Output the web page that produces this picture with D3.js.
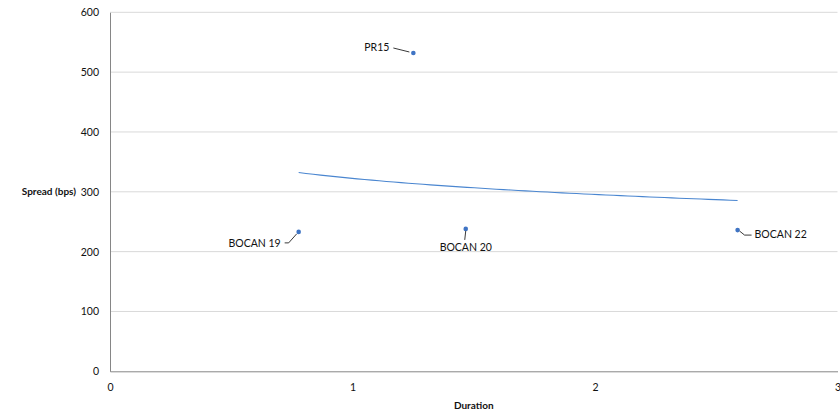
<!DOCTYPE html>
<html><head><meta charset="utf-8">
<script src="https://cdn.jsdelivr.net/npm/d3@7/dist/d3.min.js"></script>
<style>
body{margin:0;background:#fff;}
text{font-family:Lato,"Open Sans",sans-serif;fill:#111;}
</style></head>
<body><svg id="c" width="840" height="416"></svg>
<script>
const names = ["BOCAN 19","PR15","BOCAN 20","BOCAN 22"];
const durations = [0.778, 1.251, 1.467, 2.588];
const spreads = [233, 532, 238, 236];
const yTicks = [0,100,200,300,400,500,600];
const xTicks = [0,1,2,3];

const svg = d3.select("#c");
const x = d3.scaleLinear().domain([0,3]).range([110,837.5]);
const y = d3.scaleLinear().domain([0,600]).range([371.3,12.3]);

// gridlines
svg.append("g").selectAll("line").data(yTicks.filter(d=>d>0)).join("line")
  .attr("x1",x(0)).attr("x2",x(3)).attr("y1",d=>y(d)).attr("y2",d=>y(d))
  .attr("stroke","#d9d9d9").attr("stroke-width",1);

// axes
const yAxis = d3.axisLeft(y).tickValues(yTicks).tickSize(0).tickPadding(11);
const gy = svg.append("g").attr("transform",`translate(${x(0)},0)`).call(yAxis);
gy.select(".domain").attr("stroke","#868686");
gy.selectAll("text").attr("font-size","10.5px").attr("font-family","Lato,sans-serif").attr("fill","#111");

const xAxis = d3.axisBottom(x).tickValues(xTicks).tickSize(0).tickPadding(12).tickFormat(d3.format("d"));
const gx = svg.append("g").attr("transform",`translate(0,${y(0)})`).call(xAxis);
gx.select(".domain").attr("stroke","#868686");
gx.selectAll("text").attr("font-size","10.5px").attr("font-family","Lato,sans-serif").attr("fill","#111");

// axis titles
svg.append("text").attr("x",76).attr("y",y(300)+3.5).attr("text-anchor","end")
  .attr("font-size","10px").attr("font-weight","bold").text("Spread (bps)");
svg.append("text").attr("x",(x(0)+x(3))/2).attr("y",409).attr("text-anchor","middle")
  .attr("font-size","10px").attr("font-weight","bold").text("Duration");

// logarithmic trendline (least squares on ln x), as in the source chart
const lx = durations.map(Math.log);
const mx = d3.mean(lx), my = d3.mean(spreads);
const b = d3.sum(lx.map((v,i)=>(v-mx)*(spreads[i]-my))) / d3.sum(lx.map(v=>(v-mx)*(v-mx)));
const a = my - b*mx;
const xmin = d3.min(durations), xmax = d3.max(durations);
const trend = d3.range(0,61).map(i=>{const xv = xmin + (xmax-xmin)*i/60; return [xv, a + b*Math.log(xv)];});
svg.append("path").datum(trend)
  .attr("d", d3.line().x(d=>x(d[0])).y(d=>y(d[1])))
  .attr("fill","none").attr("stroke","#4a86d0").attr("stroke-width",1.1);

// points
const pts = names.map((n,i)=>({n, d:durations[i], s:spreads[i]}));
svg.append("g").selectAll("circle").data(pts).join("circle")
  .attr("cx",d=>x(d.d)).attr("cy",d=>y(d.s)).attr("r",2.3).attr("fill","#3f74c4");

// labels with leader lines (offsets relative to point)
const lab = {
  "PR15":     {dx:-24, dy:-2, anchor:"end", leader:[[-20,-5],[-4,-1]]},
  "BOCAN 19": {dx:-18, dy:15, anchor:"end", leader:[[-14,11],[-10,11],[-2,2]]},
  "BOCAN 20": {dx:0, dy:22, anchor:"middle", leader:[[0,2],[-1,11]]},
  "BOCAN 22": {dx:17, dy:8, anchor:"start", leader:[[2,1],[7,5],[14,5]]}
};
pts.forEach(p=>{
  const L = lab[p.n], px = x(p.d), py = y(p.s);
  svg.append("path").attr("d", d3.line()(L.leader.map(q=>[px+q[0],py+q[1]])))
    .attr("fill","none").attr("stroke","#222").attr("stroke-width",0.9);
  svg.append("text").attr("x",px+L.dx).attr("y",py+L.dy).attr("text-anchor",L.anchor)
    .attr("font-size","10.5px").text(p.n);
});
</script></body></html>
